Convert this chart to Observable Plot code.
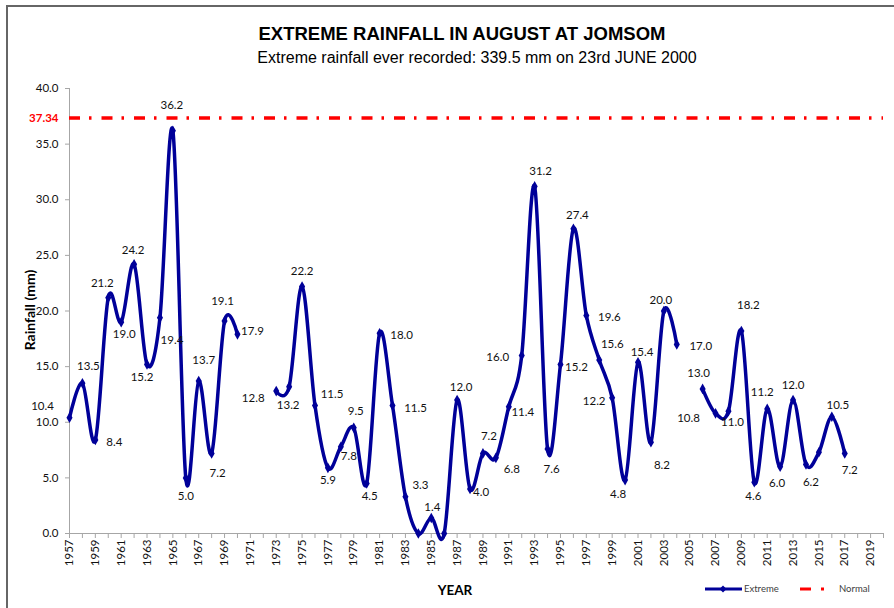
<!DOCTYPE html>
<html>
<head>
<meta charset="utf-8">
<script src="https://cdn.jsdelivr.net/npm/d3@7"></script>
<script src="https://cdn.jsdelivr.net/npm/@observablehq/plot@0.6"></script>
<style>
  html, body { margin: 0; padding: 0; background: #fff; overflow: hidden; }
  #wrap { position: relative; width: 894px; height: 608px; overflow: hidden; }
  #chart { position: absolute; left: 0; top: 0; }
  .ov { position: absolute; white-space: nowrap; }
  #frame { position: absolute; left: 6px; top: 5px; width: 920px; height: 640px;
           border-top: 2px solid #666; border-left: 2px solid #666; }
  #title { left: 162px; top: 25px; width: 600px; text-align: center;
           font: bold 18.5px "Liberation Sans", Arial, sans-serif; line-height: 18px; color: #000; }
  #subtitle { left: 177px; top: 50px; width: 600px; text-align: center;
           font: 16px "Liberation Sans", Arial, sans-serif; line-height: 16px; color: #000; }
  #ylabel { left: 29px; top: 310px; transform: translate(-50%, -50%) rotate(-90deg);
           font: bold 14px Lato, sans-serif; color: #000; }
  #xlabel { left: 455px; top: 590px; transform: translate(-50%, -50%);
           font: bold 13.5px Lato, sans-serif; color: #000; }
  .leg { font: 9.5px Lato, sans-serif; color: #404040; top: 583px; }
  #legsvg { position: absolute; left: 700px; top: 580px; }
</style>
</head>
<body>
<div id="wrap">
  <div id="chart"></div>
  <div id="frame"></div>
  <div class="ov" id="title">EXTREME RAINFALL IN AUGUST AT JOMSOM</div>
  <div class="ov" id="subtitle">Extreme rainfall ever recorded: 339.5 mm on 23rd JUNE 2000</div>
  <div class="ov" id="ylabel">Rainfall (mm)</div>
  <div class="ov" id="xlabel">YEAR</div>
  <svg id="legsvg" width="140" height="18">
    <line x1="5" x2="42" y1="9" y2="9" stroke="#000099" stroke-width="3"></line>
    <path d="M23,5.5 L26.5,9 L23,12.5 L19.5,9 Z" fill="#000099"></path>
    <line x1="100" x2="111" y1="9" y2="9" stroke="#ff0000" stroke-width="3"></line>
    <rect x="121" y="7.5" width="3" height="3" fill="#ff0000"></rect>
  </svg>
  <div class="ov leg" style="left:744px">Extreme</div>
  <div class="ov leg" style="left:839px">Normal</div>
</div>
<script>
// ---- data ----
const years = d3.range(1957, 2018);
const rainfall = [
  10.4, 13.5, 8.4, 21.2, 19.0, 24.2, 15.2, 19.4, 36.2, 5.0,
  13.7, 7.2, 19.1, 17.9, null, null, 12.8, 13.2, 22.2, 11.5,
  5.9, 7.8, 9.5, 4.5, 18.0, 11.5, 3.3, 0, 1.4, 0,
  12.0, 4.0, 7.2, 6.8, 11.4, 16.0, 31.2, 7.6, 15.2, 27.4,
  19.6, 15.6, 12.2, 4.8, 15.4, 8.2, 20.0, 17.0, null, 13.0,
  10.8, 11.0, 18.2, 4.6, 11.2, 6.0, 12.0, 6.2, 7.3, 10.5,
  7.2
];
const normal = 37.34;
const yTicks = [0, 5, 10, 15, 20, 25, 30, 35, 40];
const xTickLabels = d3.range(1957, 2020, 2);
const unlabeled = [1984, 1986, 2015];

// label placement (offsets in px, from point to label centre)
const labelOffset = {
  1957: [-27, -11], 1958: [6, -17], 1959: [19, 2], 1960: [-6, -14], 1961: [3, 12],
  1962: [-1, -14], 1963: [-5, 13], 1964: [12, 23], 1965: [-1, -25], 1966: [0, 18],
  1967: [5, -21], 1968: [6, 20], 1969: [-2, -20], 1970: [15, -3], 1973: [-23, 7],
  1974: [-1, 19], 1975: [0, -15], 1976: [17, -11], 1977: [0, 12], 1978: [8, 10],
  1979: [2, -17], 1980: [3, 13], 1981: [22, 2], 1982: [23, 3], 1983: [15, -11],
  1985: [1, -11], 1987: [4, -13], 1988: [11, 3], 1989: [6, -17], 1990: [16, 11],
  1991: [14, 6], 1992: [-24, 2], 1993: [6, -15], 1994: [4, 20], 1995: [16, 3],
  1996: [4, -13], 1997: [23, 2], 1998: [13, -16], 1999: [-18, 4], 2000: [-7, 14],
  2001: [4, -10], 2002: [11, 23], 2003: [-3, -11], 2004: [24, 2], 2006: [-4, -16],
  2007: [-27, 5], 2008: [4, 11], 2009: [7, -26], 2010: [-1, 14], 2011: [-5, -17],
  2012: [-3, 17], 2013: [0, -15], 2014: [5, 18], 2016: [6, -11], 2017: [5, 17]
};

const rows = years.map((year, i) => ({year, value: rainfall[i]}));
const present = rows.filter(d => d.value != null);
const labeled = present.filter(d => !unlabeled.includes(d.year));

const BLUE = "#000099";

const labelMarks = labeled.map(d => Plot.text([d], {
  x: "year", y: "value", text: r => r.value.toFixed(1),
  dx: labelOffset[d.year][0], dy: labelOffset[d.year][1],
  fill: "#111", fontSize: 11.5
}));

const chart = Plot.plot({
  width: 894, height: 608,
  marginLeft: 69, marginRight: 11, marginTop: 88, marginBottom: 75,
  style: {fontFamily: "Lato, sans-serif", fontSize: "11.5px", color: "#111", background: "transparent"},
  x: {domain: [1957, 2020], label: null},
  y: {domain: [0, 40], label: null},
  marks: [
    Plot.axisY({ticks: yTicks, tickFormat: d3.format(".1f"), tickSize: 4, tickPadding: 7,
                stroke: "#a6a6a6", fill: "#111", label: null, fontSize: 11.5}),
    Plot.axisX({ticks: d3.range(1957, 2021), tickSize: 5, tickFormat: () => "",
                stroke: "#a6a6a6", label: null}),
    Plot.axisX({ticks: xTickLabels, tickSize: 0, tickPadding: 6, tickRotate: -90,
                tickFormat: d => String(d), fill: "#111", label: null, fontSize: 11.5}),
    Plot.ruleX([1957], {stroke: "#a6a6a6", strokeWidth: 1}),
    Plot.ruleY([0], {stroke: "#a6a6a6", strokeWidth: 1}),
    Plot.ruleY([normal], {x1: 1957, x2: 2020, stroke: "#ff0000", strokeWidth: 3.5,
                strokeDasharray: "11,9,2.5,10"}),
    Plot.text([normal], {y: d => d, frameAnchor: "left", dx: -11, textAnchor: "end",
                text: d => d.toFixed(2), fill: "#ff0000", fontWeight: "bold", fontSize: 11.5}),
    Plot.line(rows, {x: "year", y: "value", curve: "cardinal", tension: 0,
                stroke: BLUE, strokeWidth: 3.5}),
    Plot.dot(present, {x: "year", y: "value", symbol: "diamond", r: 3.2, fill: BLUE}),
    ...labelMarks
  ]
});
document.getElementById("chart").appendChild(chart);
</script>
</body>
</html>
